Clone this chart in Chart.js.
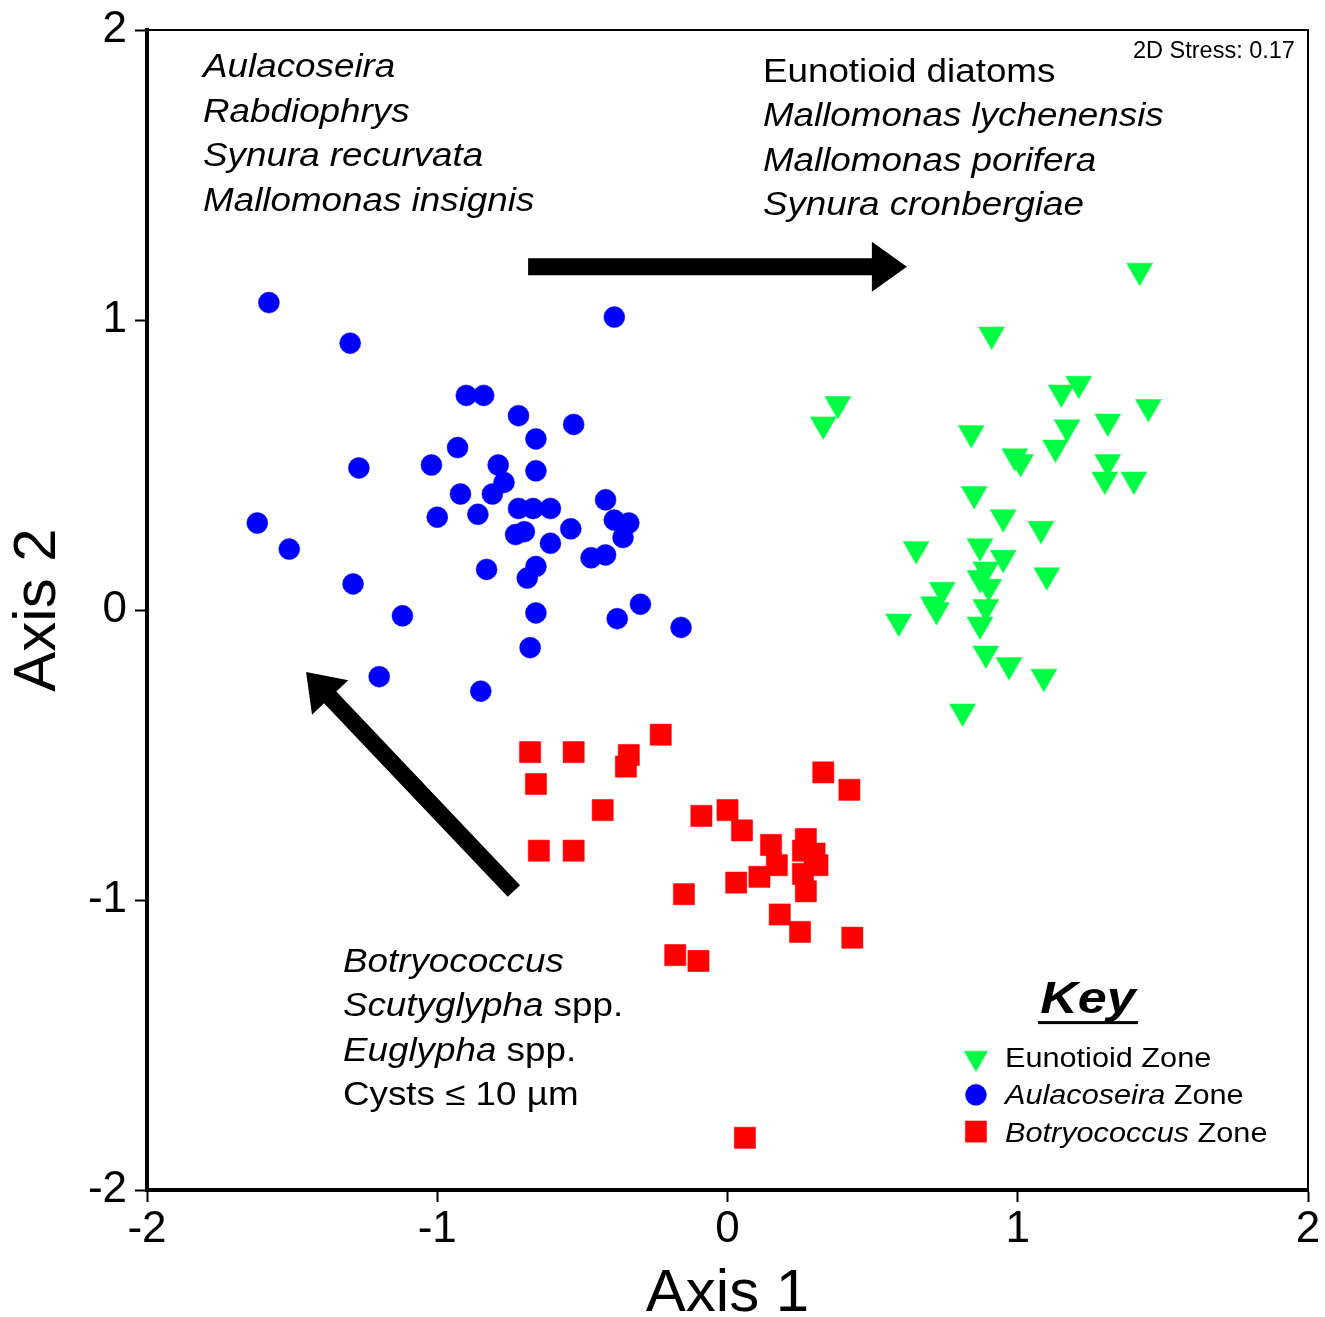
<!DOCTYPE html>
<html lang="en">
<head>
    <meta charset="UTF-8">
    <title>NMDS ordination</title>
    <script src="https://cdn.jsdelivr.net/npm/chart.js"></script>
    <style>
        body { margin: 0; background: #fff; }
    </style>
</head>
<body>
    <canvas id="nmdsChart" width="1325" height="1317"></canvas>

    <script>
        // Aulacoseira zone (blue circles)
        const aulacoX = [-1.58, -1.30, -0.39, -0.90, -0.84, -0.72, -0.53, -0.66, -0.93, -1.27, -1.02, -0.79, -0.66, -0.77, -0.92,
            -0.81, -1.00, -0.86, -0.72, -0.67, -0.61, -0.42, -0.39, -0.34, -0.36, -0.54, -0.70, -0.73, -0.61, -1.62,
            -1.51, -0.47, -0.42, -0.83, -0.66, -0.69, -1.29, -0.30, -0.38, -0.16, -1.12, -0.66, -0.68, -1.20, -0.85];
        const aulacoY = [1.06, 0.92, 1.01, 0.74, 0.74, 0.67, 0.64, 0.59, 0.56, 0.49, 0.50, 0.50, 0.48, 0.44, 0.40,
            0.40, 0.32, 0.33, 0.35, 0.35, 0.35, 0.38, 0.31, 0.30, 0.25, 0.28, 0.27, 0.26, 0.23, 0.30,
            0.21, 0.18, 0.19, 0.14, 0.15, 0.11, 0.09, 0.02, -0.03, -0.06, -0.02, -0.01, -0.13, -0.23, -0.28];

        // Eunotioid zone (green triangles)
        const eunoX = [1.42, 0.91, 1.21, 1.15, 0.38, 0.33, 1.45, 1.31, 1.17, 0.84, 1.13, 0.99, 1.01, 1.31, 1.30, 1.40, 0.85, 0.95,
            1.08, 0.65, 0.87, 0.95, 0.89, 0.87, 0.90, 1.10, 0.74, 0.71, 0.72, 0.89, 0.59, 0.87, 0.89, 0.97, 1.09, 0.81];
        const eunoY = [1.17, 0.95, 0.78, 0.75, 0.71, 0.64, 0.70, 0.65, 0.63, 0.61, 0.56, 0.53, 0.51, 0.51, 0.45, 0.45, 0.40, 0.32,
            0.28, 0.21, 0.22, 0.18, 0.14, 0.11, 0.08, 0.12, 0.07, 0.02, 0.00, 0.01, -0.04, -0.05, -0.15, -0.19, -0.23, -0.35];

        // Botryococcus zone (red squares)
        const botryoX = [-0.68, -0.53, -0.34, -0.35, -0.23, -0.66, -0.43, -0.65, -0.53, 0.33, 0.42, -0.09, 0.00, 0.05, 0.15, 0.27,
            0.26, 0.30, 0.31, 0.17, 0.11, 0.26, 0.03, 0.27, -0.15, 0.18, 0.25, 0.43, -0.18, -0.10, 0.06];
        const botryoY = [-0.49, -0.49, -0.50, -0.54, -0.43, -0.60, -0.69, -0.83, -0.83, -0.56, -0.62, -0.71, -0.69, -0.76, -0.81, -0.79,
            -0.83, -0.84, -0.88, -0.88, -0.92, -0.91, -0.94, -0.97, -0.98, -1.05, -1.11, -1.13, -1.19, -1.21, -1.82];

        const axisTicks = [-2, -1, 0, 1, 2];

        // text blocks: each line is a list of [text, italic]
        const topLeftLines = [
            [['Aulacoseira', true]],
            [['Rabdiophrys', true]],
            [['Synura recurvata', true]],
            [['Mallomonas insignis', true]]
        ];
        const topRightLines = [
            [['Eunotioid diatoms', false]],
            [['Mallomonas lychenensis', true]],
            [['Mallomonas porifera', true]],
            [['Synura cronbergiae', true]]
        ];
        const bottomLines = [
            [['Botryococcus', true]],
            [['Scutyglypha', true], [' spp.', false]],
            [['Euglypha', true], [' spp.', false]],
            [['Cysts \u2264 10 \u00b5m', false]]
        ];
        const keyLines = [
            [['Eunotioid Zone', false]],
            [['Aulacoseira', true], [' Zone', false]],
            [['Botryococcus', true], [' Zone', false]]
        ];
        const stressLabel = '2D Stress: 0.17';

        const FONT = '"Liberation Sans", Arial, Helvetica, sans-serif';
        const GREEN = '#00FF44';
        const BLUE = '#0000FF';
        const RED = '#FF0000';

        const toPoints = (xs, ys) => xs.map((x, i) => ({ x: x, y: ys[i] }));

        function drawLine(ctx, segs, x, y, size, sx) {
            ctx.save();
            ctx.translate(x, y);
            ctx.scale(sx, 1);
            let cx = 0;
            segs.forEach(([t, it]) => {
                ctx.font = (it ? 'italic ' : '') + size + 'px ' + FONT;
                ctx.fillText(t, cx, 0);
                cx += ctx.measureText(t).width;
            });
            ctx.restore();
        }

        function drawArrow(ctx, x1, y1, x2, y2) {
            const shaft = 17, headLen = 35, headHalf = 25;
            const ang = Math.atan2(y2 - y1, x2 - x1);
            const len = Math.hypot(x2 - x1, y2 - y1);
            ctx.save();
            ctx.translate(x1, y1);
            ctx.rotate(ang);
            ctx.fillStyle = '#000';
            ctx.beginPath();
            ctx.moveTo(0, -shaft / 2);
            ctx.lineTo(len - headLen, -shaft / 2);
            ctx.lineTo(len - headLen, -headHalf);
            ctx.lineTo(len, 0);
            ctx.lineTo(len - headLen, headHalf);
            ctx.lineTo(len - headLen, shaft / 2);
            ctx.lineTo(0, shaft / 2);
            ctx.closePath();
            ctx.fill();
            ctx.restore();
        }

        const annotations = {
            id: 'annotations',
            afterDatasetsDraw(chart) {
                const ctx = chart.ctx;
                const xs = chart.scales.x, ys = chart.scales.y;
                const px = v => xs.getPixelForValue(v);
                const py = v => ys.getPixelForValue(v);
                const area = chart.chartArea;

                // thin top / right frame
                ctx.save();
                ctx.strokeStyle = '#000';
                ctx.lineWidth = 2;
                ctx.beginPath();
                ctx.moveTo(area.left, area.top);
                ctx.lineTo(area.right, area.top);
                ctx.lineTo(area.right, area.bottom);
                ctx.stroke();
                ctx.restore();

                // arrows
                drawArrow(ctx, px(-0.687), py(1.184), px(0.618), py(1.184));
                drawArrow(ctx, px(-0.736), py(-0.969), px(-1.452), py(-0.214));

                ctx.save();
                ctx.fillStyle = '#000';
                ctx.textBaseline = 'alphabetic';
                ctx.textAlign = 'left';
                const sx = 1.115, size = 33, step = 44.6;
                topLeftLines.forEach((l, i) => drawLine(ctx, l, px(-1.807), py(1.837) + i * step, size, sx));
                topRightLines.forEach((l, i) => drawLine(ctx, l, px(0.122), py(1.822) + i * step, size, sx));
                bottomLines.forEach((l, i) => drawLine(ctx, l, px(-1.325), py(-1.247) + i * step, size, sx));

                // stress
                ctx.font = '23.5px ' + FONT;
                ctx.textAlign = 'right';
                ctx.fillText(stressLabel, px(1.955), py(1.902));

                // key title
                ctx.save();
                ctx.translate(px(1.242), py(-1.39));
                ctx.scale(1.18, 1);
                ctx.font = 'italic bold 44px ' + FONT;
                ctx.textAlign = 'center';
                ctx.fillText('Key', 0, 0);
                ctx.restore();
                ctx.fillRect(px(1.242) - 50, py(-1.39) + 8, 100, 3);

                // key entries
                ctx.textAlign = 'left';
                const rowY = [py(-1.576), py(-1.703), py(-1.833)];
                const mx = px(0.856), tx = px(0.956);
                const markers = [
                    { pointStyle: 'triangle', radius: 13.5, rotation: 180, color: GREEN, dy: -9 },
                    { pointStyle: 'circle', radius: 10.5, rotation: 0, color: BLUE, dy: -9 },
                    { pointStyle: 'rect', radius: 15, rotation: 0, color: RED, dy: -10 }
                ];
                keyLines.forEach((l, i) => {
                    const m = markers[i];
                    ctx.fillStyle = m.color;
                    ctx.strokeStyle = m.color;
                    ctx.lineWidth = 0.5;
                    Chart.helpers.drawPoint(ctx, { pointStyle: m.pointStyle, radius: m.radius, rotation: m.rotation, borderWidth: 0.5 }, mx, rowY[i] + m.dy);
                    ctx.fillStyle = '#000';
                    drawLine(ctx, l, tx, rowY[i], 27.5, sx);
                });
                ctx.restore();
            }
        };

        const ctx = document.getElementById('nmdsChart').getContext('2d');
        new Chart(ctx, {
            type: 'scatter',
            data: {
                datasets: [
                    {
                        label: 'Eunotioid Zone',
                        data: toPoints(eunoX, eunoY),
                        pointStyle: 'triangle',
                        pointRotation: 180,
                        pointRadius: 15,
                        backgroundColor: GREEN,
                        borderColor: GREEN,
                        borderWidth: 0.5
                    },
                    {
                        label: 'Aulacoseira Zone',
                        data: toPoints(aulacoX, aulacoY),
                        pointStyle: 'circle',
                        pointRadius: 10.5,
                        backgroundColor: BLUE,
                        borderColor: BLUE,
                        borderWidth: 0.5
                    },
                    {
                        label: 'Botryococcus Zone',
                        data: toPoints(botryoX, botryoY),
                        pointStyle: 'rect',
                        pointRadius: 15,
                        backgroundColor: RED,
                        borderColor: RED,
                        borderWidth: 0.5
                    }
                ]
            },
            options: {
                responsive: false,
                animation: false,
                devicePixelRatio: 1,
                layout: { padding: { top: 30, right: 17, left: 0, bottom: 0 } },
                plugins: {
                    legend: { display: false },
                    tooltip: { enabled: false }
                },
                scales: {
                    x: {
                        type: 'linear',
                        min: -2,
                        max: 2,
                        afterBuildTicks: s => { s.ticks = axisTicks.map(v => ({ value: v })); },
                        afterFit: s => { s.height = 127; },
                        ticks: { color: '#000', padding: 1, font: { family: FONT, size: 44 } },
                        grid: { drawOnChartArea: false, tickLength: 12, tickWidth: 2, tickColor: '#000' },
                        border: { display: true, width: 4, color: '#000' },
                        title: {
                            display: true,
                            text: 'Axis 1',
                            color: '#000',
                            font: { family: FONT, size: 60, lineHeight: 1 },
                            padding: { top: 0, bottom: -7 }
                        }
                    },
                    y: {
                        type: 'linear',
                        min: -2,
                        max: 2,
                        afterBuildTicks: s => { s.ticks = axisTicks.map(v => ({ value: v })); },
                        afterFit: s => { s.width = 147; },
                        ticks: { color: '#000', padding: 8, font: { family: FONT, size: 44, lineHeight: 1 } },
                        grid: { drawOnChartArea: false, tickLength: 12, tickWidth: 2, tickColor: '#000' },
                        border: { display: true, width: 4, color: '#000' },
                        title: {
                            display: true,
                            text: 'Axis 2',
                            color: '#000',
                            font: { family: FONT, size: 60, lineHeight: 1 },
                            padding: { top: 8, bottom: 0 }
                        }
                    }
                }
            },
            plugins: [annotations]
        });
    </script>
</body>
</html>
